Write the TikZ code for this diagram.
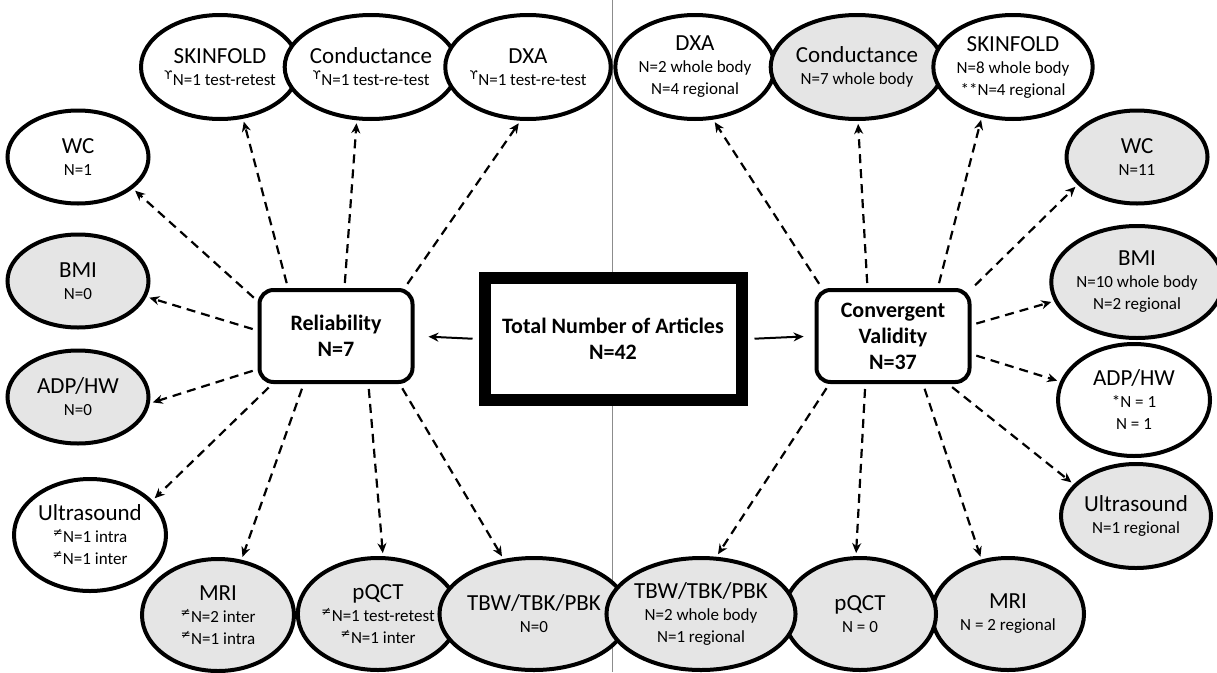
\documentclass[tikz,border=0pt]{standalone}
\usepackage{fontspec}
\setmainfont{Carlito}
\newfontfamily\symfont{DejaVu Sans}
\usetikzlibrary{arrows.meta,shapes.geometric}
\newcommand{\ttl}{\fontsize{23}{26}\selectfont}
\newcommand{\sbt}{\fontsize{17}{22}\selectfont}
\newcommand{\ups}{\textsuperscript{\symfont ϒ}}
\newcommand{\neqm}{\textsuperscript{\symfont ≠}}

\begin{document}
\begin{tikzpicture}[x=1pt,y=-1pt,>={Stealth[length=10pt,width=9pt]},
  ell/.style={ellipse,draw,line width=4pt,fill=white,minimum width=150pt,minimum height=104pt,inner sep=0pt,align=center,font=\sbt},
  sml/.style={minimum width=141pt,minimum height=93pt},
  big/.style={minimum width=152pt,minimum height=112pt},
  shd/.style={fill=black!10},
  conn/.style={->,line width=2.2pt,dash pattern=on 9pt off 6pt,shorten <=5pt,shorten >=3pt},
  hub/.style={draw,line width=4pt,rounded corners=14pt,minimum width=153pt,minimum height=92pt,align=center,font=\bfseries\fontsize{22}{26}\selectfont}]
  \clip (0,0) rectangle (1217,672);
  % divider
  \coordinate (dtop) at (612,0);
  \coordinate (dbot) at (612,672);
  \draw[black!45,line width=1pt] (dtop) -- (dbot);
  % centre
  \node[draw,line width=12pt,fill=white,minimum width=257pt,minimum height=122pt,align=center,font=\bfseries\fontsize{22}{26}\selectfont] (tot) at (613,339) {Total Number of Articles\\N=42};
  \node[hub] (rel) at (336,336) {Reliability\\N=7};
  \node[hub] (conv) at (893,336) {Convergent\\Validity\\N=37};
  \draw[->,line width=2pt,shorten <=6pt,shorten >=14pt] (tot.west) -- (rel.east);
  \draw[->,line width=2pt,shorten <=7pt,shorten >=11pt] (tot.east) -- (conv.west);

  % left: reliability
  \node[ell] (lskin) at (220,67) {{\ttl SKINFOLD}\\\ups N=1 test-retest};
  \node[ell] (lcond) at (371,67) {{\ttl Conductance}\\\ups N=1 test-re-test};
  \node[ell] (ldxa) at (528,67) {{\ttl DXA}\\\ups N=1 test-re-test};
  \node[ell,sml] (lwc) at (78,157) {{\ttl WC}\\N=1};
  \node[ell,sml,shd] (lbmi) at (78,281) {{\ttl BMI}\\N=0};
  \node[ell,sml,shd] (ladp) at (78,397) {{\ttl ADP/HW}\\N=0};
  \node[ell,big] (lus) at (90,535) {{\ttl Ultrasound}\\\neqm N=1 intra\\\neqm N=1 inter};
  \node[ell,big,shd] (lmri) at (218,615) {{\ttl MRI}\\\neqm N=2 inter\\\neqm N=1 intra};
  \node[ell,big,shd] (lpqct) at (378,614) {{\ttl pQCT}\\\neqm N=1 test-retest\\\neqm N=1 inter};
  \node[ell,big,shd] (ltbw) at (534,614) {{\ttl TBW/TBK/PBK}\\N=0};
  \foreach \n/\a/\b in {lwc/156/-30,lskin/135/-66,lcond/80/-105,ldxa/35/-98,lbmi/176/-13,
      ladp/203/-5,lus/217/29,lmri/236/67,lpqct/304/85,ltbw/323/119}
    \draw[conn] (rel.\a) -- (\n.\b);

  % right: convergent validity
  \node[ell] (rdxa) at (695,67) {{\ttl DXA}\\N=2 whole body\\N=4 regional};
  \node[ell,shd] (rcond) at (857,67) {{\ttl Conductance}\\N=7 whole body};
  \node[ell] (rskin) at (1013,67) {{\ttl SKINFOLD}\\N=8 whole body\\**N=4 regional};
  \node[ell,sml,shd] (rwc) at (1137,157) {{\ttl WC}\\N=11};
  \node[ell,big,shd] (rbmi) at (1137,282) {{\ttl BMI}\\N=10 whole body\\N=2 regional};
  \node[ell,big] (radp) at (1134,400) {{\ttl ADP/HW}\\*N = 1\\N = 1};
  \node[ell,shd] (rus) at (1136,516) {{\ttl Ultrasound}\\N=1 regional};
  \node[ell,big,shd] (rmri) at (1008,614) {{\ttl MRI}\\N = 2 regional};
  \node[ell,big,shd] (rpqct) at (860,614) {{\ttl pQCT}\\N = 0};
  \node[ell,big,shd] (rtbw) at (701,614) {{\ttl TBW/TBK/PBK}\\N=2 whole body\\N=1 regional};
  \foreach \n/\a/\b in {rdxa/146/-71,rcond/118/-89,rskin/47/-122,rwc/31/205,rbmi/8/193,
      radp/-13/166,rus/-41/153,rmri/-58/116,rpqct/240/94,rtbw/217/75}
    \draw[conn] (conv.\a) -- (\n.\b);
\end{tikzpicture}
\end{document}
